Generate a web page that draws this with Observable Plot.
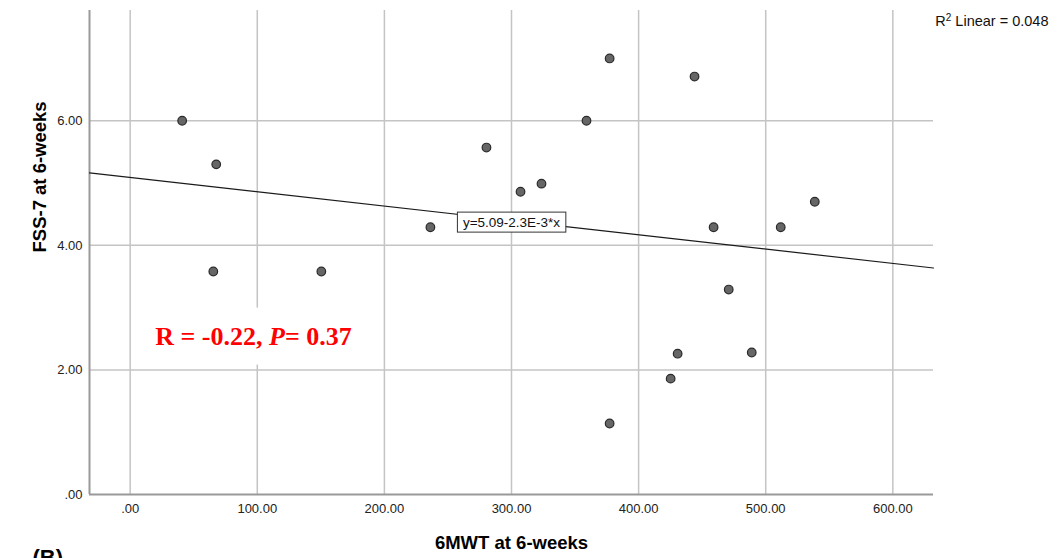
<!DOCTYPE html>
<html><head><meta charset="utf-8">
<script src="https://cdn.jsdelivr.net/npm/d3@7"></script>
<script src="https://cdn.jsdelivr.net/npm/@observablehq/plot@0.6"></script>
<style>html,body{margin:0;padding:0;background:#fff;overflow:hidden}</style>
</head><body><div id="chart"></div>
<script>
// Data
const mwt = [40.9, 67.7, 65.4, 150.4, 236.2, 280.3, 307.1, 323.6, 359.0, 377.2, 377.2, 444.0, 459.0, 470.9, 430.7, 425.2, 489.0, 511.8, 538.6];
const fss = [6.00, 5.30, 3.58, 3.58, 4.29, 5.57, 4.86, 4.99, 6.00, 7.00, 1.14, 6.71, 4.29, 3.29, 2.26, 1.86, 2.28, 4.29, 4.70];
const xTicks = [0, 100, 200, 300, 400, 500, 600];
const yTicks = [0, 2, 4, 6];
const xDomain = [-32, 632];
const yDomain = [0, 7.77];
const intercept = 5.09;
const slope = -0.0023;
const eqText = "y=5.09-2.3E-3*x";
const eqPos = [300, 4.37];
const statText = "R = -0.22, P= 0.37";
const statPos = [97, 2.54];
const r2Text = "R2 Linear = 0.048";

const points = mwt.map((x, i) => ({x, y: fss[i]}));
const fit = xDomain.map(x => ({x, y: intercept + slope * x}));
const fmt = d => d === 0 ? ".00" : d.toFixed(2);

const chart = Plot.plot({
  width: 1058, height: 558,
  marginLeft: 89, marginRight: 125, marginTop: 10, marginBottom: 64,
  style: {fontFamily: "'Liberation Sans', Arial, sans-serif", fontSize: "13px", color: "#222", background: "#fff"},
  x: {domain: xDomain, ticks: xTicks, tickFormat: fmt, tickSize: 0, tickPadding: 9, label: null},
  y: {domain: yDomain, ticks: yTicks, tickFormat: fmt, tickSize: 0, tickPadding: 7, label: null},
  marks: [
    Plot.ruleX(xTicks, {stroke: "#c4c4c4", strokeWidth: 1.5}),
    Plot.ruleY(yTicks.filter(d => d > 0), {stroke: "#c4c4c4", strokeWidth: 1.5}),
    Plot.ruleY([0], {stroke: "#999", strokeWidth: 2}),
    Plot.ruleX([xDomain[0]], {stroke: "#999", strokeWidth: 2}),
    Plot.line(fit, {x: "x", y: "y", stroke: "#1a1a1a", strokeWidth: 1.2}),
    Plot.dot(points, {x: "x", y: "y", r: 4.3, fill: "#666", stroke: "#2a2a2a", strokeWidth: 1.2}),
    Plot.text([eqText], {x: () => eqPos[0], y: () => eqPos[1], text: d => d, fontSize: 13.5, fill: "#111"}),
    Plot.text([statText], {x: () => statPos[0], y: () => statPos[1], text: d => d, fontSize: 26, fontWeight: "bold", fill: "#ff0000", fontFamily: "'Liberation Serif', 'Times New Roman', serif"}),
    Plot.text([r2Text], {frameAnchor: "top-right", text: d => d, dx: 115, dy: 5, fontSize: 14.5, fill: "#111", textAnchor: "end"}),
    Plot.text(["6MWT at 6-weeks"], {frameAnchor: "bottom", text: d => d, dy: 54, fontSize: 18.5, fontWeight: "bold", fill: "#000"}),
    Plot.text(["FSS-7 at 6-weeks"], {frameAnchor: "left", text: d => d, dx: -49, rotate: -90, fontSize: 18.5, fontWeight: "bold", fill: "#000"}),
    Plot.text(["(B)"], {frameAnchor: "bottom-left", text: d => d, dx: -57, dy: 55, lineAnchor: "top", textAnchor: "start", fontSize: 22, fontWeight: "bold", fill: "#000"})
  ]
});
document.getElementById("chart").appendChild(chart);

const NS = "http://www.w3.org/2000/svg";
const findText = s => Array.from(chart.querySelectorAll("text")).find(t => t.textContent === s);
function richText(t, parts) {
  if (!t) return;
  while (t.firstChild) t.removeChild(t.firstChild);
  for (const [s, attrs] of parts) {
    const ts = document.createElementNS(NS, "tspan");
    ts.textContent = s;
    for (const k in attrs) ts.setAttribute(k, attrs[k]);
    t.appendChild(ts);
  }
}
function boxBehind(t, padX, padY, fill, stroke) {
  if (!t) return;
  const b = t.getBBox();
  const r = document.createElementNS(NS, "rect");
  r.setAttribute("x", b.x - padX); r.setAttribute("y", b.y - padY);
  r.setAttribute("width", b.width + 2 * padX); r.setAttribute("height", b.height + 2 * padY);
  r.setAttribute("fill", fill); r.setAttribute("stroke", stroke);
  const tr = t.getAttribute("transform");
  if (tr) r.setAttribute("transform", tr);
  t.parentNode.insertBefore(r, t);
}
const stEl = findText(statText);
richText(stEl, [["R = -0.22, ", {}], ["P", {"font-style": "italic"}], ["= 0.37", {}]]);
const r2El = findText(r2Text);
richText(r2El, [["R", {}], ["2", {"font-size": "10", "dy": "-5"}], [" Linear = 0.048", {"dy": "5"}]]);
boxBehind(findText(eqText), 5.5, 2.5, "#fff", "#333");
boxBehind(stEl, 12, 14, "#fff", "none");
</script></body></html>
